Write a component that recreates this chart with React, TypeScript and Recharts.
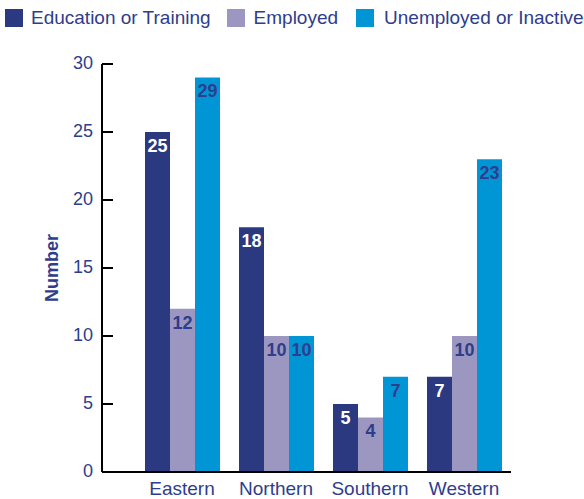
import { Bar, BarChart, LabelList, XAxis, YAxis } from "recharts";

const regions = ["Eastern", "Northern", "Southern", "Western"];
const educationOrTraining = [25, 18, 5, 7];
const employed = [12, 10, 4, 10];
const unemployedOrInactive = [29, 10, 7, 23];
const yTicks = [0, 5, 10, 15, 20, 25, 30];

const NAVY = "#2B3A80";
const LILAC = "#9B97C0";
const CYAN = "#0096D6";
const TEXT = "#2E3D8C";
const FONT = "'Liberation Sans', Arial, sans-serif";

const data = regions.map((region, i) => ({
  region,
  edu: educationOrTraining[i],
  emp: employed[i],
  unemp: unemployedOrInactive[i],
}));

const legendItems = [
  { label: "Education or Training", color: NAVY, gap: 8, after: 16 },
  { label: "Employed", color: LILAC, gap: 9, after: 18 },
  { label: "Unemployed or Inactive", color: CYAN, gap: 10, after: 0 },
];

function YTick(props: any) {
  const { x, y, payload } = props;
  return (
    <g>
      <line x1={x + 8} x2={x + 19} y1={y} y2={y} stroke="#000" strokeWidth={2} />
      <text x={x - 1} y={y} dy={5} textAnchor="end" fontSize={18} fill={TEXT} fontFamily={FONT}>
        {payload.value}
      </text>
    </g>
  );
}

function EndTick(props: any) {
  const { x, y } = props;
  return <line x1={x} x2={x} y1={y - 9} y2={y + 1} stroke="#000" strokeWidth={2} />;
}

export default function App() {
  return (
    <div style={{ position: "absolute", left: 0, top: 0, width: 584, height: 499, background: "#fff", fontFamily: FONT }}>
      <div style={{ position: "absolute", left: 5, top: 7, display: "flex", alignItems: "center", whiteSpace: "nowrap" }}>
        {legendItems.map((it) => (
          <div key={it.label} style={{ display: "flex", alignItems: "center", marginRight: it.after }}>
            <span style={{ width: 18, height: 18, background: it.color, display: "inline-block", marginRight: it.gap }} />
            <span style={{ fontSize: 19, color: TEXT }}>{it.label}</span>
          </div>
        ))}
      </div>
      <BarChart
        width={584}
        height={499}
        data={data}
        margin={{ top: 64, right: 73, bottom: 0, left: 0 }}
        barCategoryGap={10}
        barGap={0}
      >
        <XAxis
          dataKey="region"
          height={27}
          padding={{ left: 33, right: 0 }}
          axisLine={{ stroke: "#000", strokeWidth: 2 }}
          tickLine={false}
          tickSize={0}
          tickMargin={10}
          tick={{ fontSize: 19, fill: TEXT, fontFamily: FONT }}
        />
        <YAxis
          width={102}
          domain={[0, 30]}
          ticks={yTicks}
          interval={0}
          axisLine={{ stroke: "#000", strokeWidth: 2 }}
          tickLine={false}
          tickSize={0}
          tickMargin={8}
          tick={<YTick />}
          label={{
            value: "Number",
            angle: -90,
            position: "center",
            dx: 1,
            style: { fontSize: 18, fontWeight: "bold", fill: TEXT, fontFamily: FONT },
          }}
        />
        <YAxis
          yAxisId="end"
          orientation="right"
          width={0}
          domain={[0, 30]}
          ticks={[0]}
          axisLine={false}
          tickLine={false}
          tickSize={0}
          tickMargin={0}
          tick={<EndTick />}
        />
        <Bar dataKey="edu" fill={NAVY} isAnimationActive={false}>
          <LabelList dataKey="edu" position="insideTop" offset={7} fill="#fff" fontSize={18} fontWeight="bold" fontFamily={FONT} />
        </Bar>
        <Bar dataKey="emp" fill={LILAC} isAnimationActive={false}>
          <LabelList dataKey="emp" position="insideTop" offset={7} fill={TEXT} fontSize={18} fontWeight="bold" fontFamily={FONT} />
        </Bar>
        <Bar dataKey="unemp" fill={CYAN} isAnimationActive={false}>
          <LabelList dataKey="unemp" position="insideTop" offset={7} fill={TEXT} fontSize={18} fontWeight="bold" fontFamily={FONT} />
        </Bar>
      </BarChart>
    </div>
  );
}
